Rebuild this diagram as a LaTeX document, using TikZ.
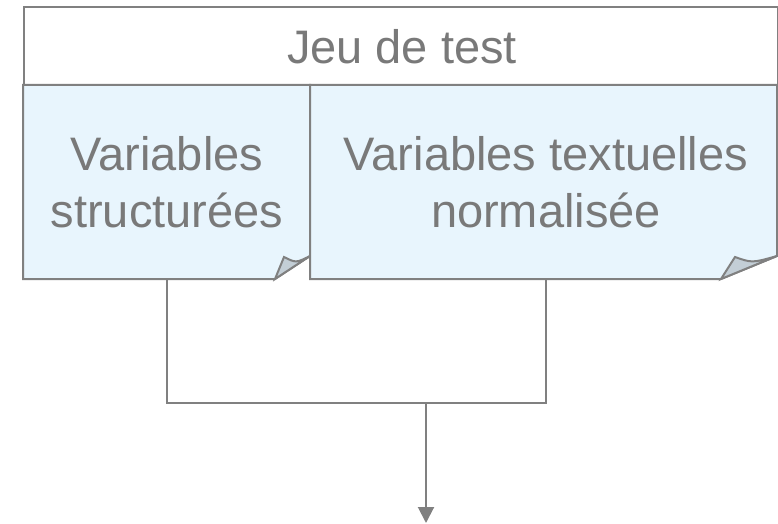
\documentclass[tikz,border=0pt]{standalone}
\usepackage{fontspec}
\setmainfont{Liberation Sans}
\usetikzlibrary{arrows.meta}
\definecolor{linec}{HTML}{808080}
\definecolor{txtc}{HTML}{797979}
\definecolor{boxfill}{HTML}{E8F5FD}
\definecolor{foldfill}{HTML}{C3CED6}
\tikzset{
  outline/.style={draw=linec, line width=2pt, line join=miter},
  label/.style={text=txtc, align=center, inner sep=0pt, font=\fontsize{47}{57}\selectfont},
  conn/.style={draw=linec, line width=2pt},
}
\begin{document}
\begin{tikzpicture}[x=1pt,y=-1pt]
\useasboundingbox (0,0) rectangle (778,524);
% header
\node[outline, fill=white, minimum width=754pt, minimum height=79pt, anchor=north west, inner sep=0pt] (head) at (23,6) {};
\node[label] (headtxt) at (402,47) {Jeu de test};
% left box
\path[outline, fill=boxfill] (23,85) -- (310,85) -- (310,256) -- (275,279) -- (23,279) -- cycle;
\path[outline, fill=foldfill] (275,279) -- (284,257) .. controls (296,263) .. (310,256) -- cycle;
% right box
\path[outline, fill=boxfill] (310,85) -- (777,85) -- (777,256) -- (721,279) -- (310,279) -- cycle;
\path[outline, fill=foldfill] (721,279) -- (735,257) .. controls (752,263) .. (777,256) -- cycle;
\node[label] (ltxt) at (167,182) {Variables\\structurées};
\node[label] (rtxt) at (546,182) {Variables textuelles\\normalisée};
% connectors
\coordinate (lbot) at (167,279);
\coordinate (rbot) at (546,279);
\coordinate (join) at (426,403);
\coordinate (out) at (426,523);
\draw[conn] (lbot) |- (join) -| (rbot);
\draw[conn, -{Triangle[width=16pt,length=16pt]}] (join) -- (out);
\end{tikzpicture}
\end{document}
